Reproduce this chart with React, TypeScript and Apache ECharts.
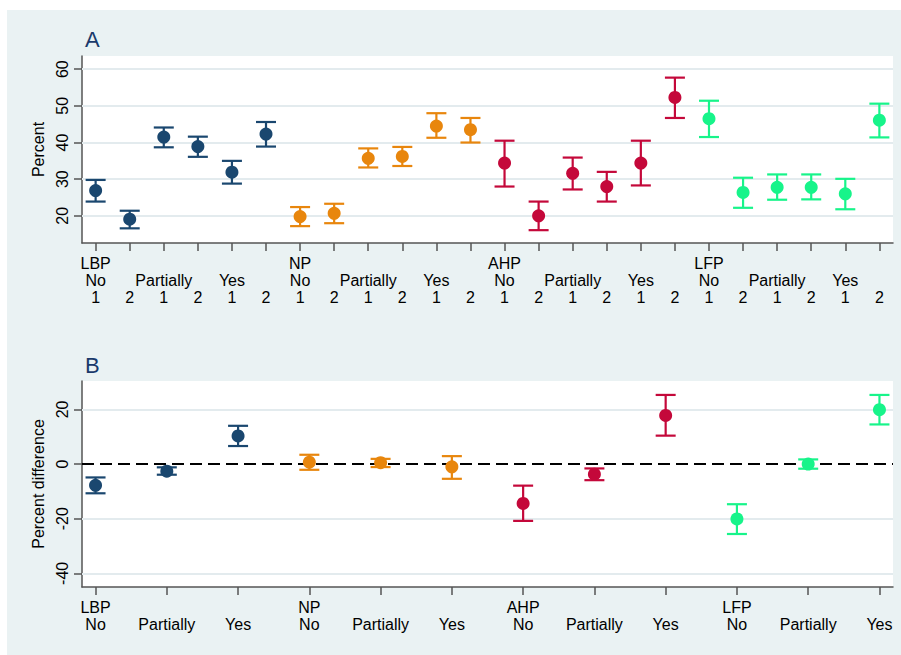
import React, { useEffect, useRef } from "react";
import * as echarts from "echarts";

const groups = ["LBP", "NP", "AHP", "LFP"];
const responses = ["No", "Partially", "Yes"];
const waves = ["1", "2"];
const groupColors = ["#1a476f", "#e8860d", "#c4083a", "#17f48a"];

// Panel A: percent by group x response x wave (24 points)
const percentMean = [
  26.9, 19.1, 41.5, 38.9, 31.9, 42.3,
  19.8, 20.7, 35.7, 36.2, 44.5, 43.5,
  34.4, 20.0, 31.6, 28.0, 34.4, 52.3,
  46.5, 26.4, 27.8, 27.8, 26.0, 46.1,
];
const percentLow = [
  23.9, 16.6, 38.7, 36.1, 28.8, 38.9,
  17.2, 18.0, 33.2, 33.6, 41.3, 40.0,
  28.0, 16.1, 27.2, 23.9, 28.3, 46.7,
  41.5, 22.2, 24.4, 24.5, 21.8, 41.4,
];
const percentHigh = [
  29.8, 21.4, 44.1, 41.6, 35.0, 45.6,
  22.4, 23.3, 38.4, 38.8, 48.0, 46.7,
  40.5, 23.9, 35.9, 32.0, 40.5, 57.7,
  51.4, 30.4, 31.3, 31.3, 30.1, 50.6,
];

// Panel B: percent difference by group x response (12 points)
const diffMean = [-7.8, -2.6, 10.3, 0.7, 0.5, -1.0, -14.4, -3.7, 17.8, -20.1, 0.0, 19.9];
const diffLow = [-10.7, -3.9, 6.6, -2.1, -1.1, -5.4, -20.8, -5.9, 10.4, -25.6, -1.7, 14.5];
const diffHigh = [-4.9, -1.2, 14.0, 3.4, 1.9, 2.9, -7.9, -1.6, 25.3, -14.7, 1.7, 25.3];

const yTicksA = [20, 30, 40, 50, 60];
const yTicksB = [-40, -20, 0, 20];

const FONT = "'Liberation Sans', Arial, sans-serif";
const AXIS_COLOR = "#555555";
const GRID_COLOR = "#e3ebee";

export default function App() {
  const ref = useRef<HTMLDivElement>(null);

  useEffect(() => {
    if (!ref.current) return;
    const chart = echarts.init(ref.current, undefined, { renderer: "svg" });

    const nA = groups.length * responses.length * waves.length;
    const nB = groups.length * responses.length;
    const idxA = Array.from({ length: nA }, (_, i) => i);
    const idxB = Array.from({ length: nB }, (_, i) => i);

    const labelA = (i: number) => {
      const g = Math.floor(i / 6);
      const r = Math.floor((i % 6) / 2);
      const w = i % 2;
      const l1 = r === 0 && w === 0 ? groups[g] : "";
      const l2 = w === 0 ? responses[r] : "";
      return l1 + "\n" + l2 + "\n" + waves[w];
    };
    const labelB = (i: number) => {
      const g = Math.floor(i / 3);
      const r = i % 3;
      return (r === 0 ? groups[g] : "") + "\n" + responses[r];
    };
    const colorA = (i: number) => groupColors[Math.floor(i / 6)];
    const colorB = (i: number) => groupColors[Math.floor(i / 3)];

    const errRender = (params: any, api: any) => {
      const x = api.value(0);
      const lo = api.coord([x, api.value(1)]);
      const hi = api.coord([x, api.value(2)]);
      const color = api.visual("color");
      const half = 10;
      const style = { stroke: color, lineWidth: 2.2 };
      return {
        type: "group",
        children: [
          { type: "line", shape: { x1: lo[0], y1: lo[1], x2: hi[0], y2: hi[1] }, style },
          { type: "line", shape: { x1: lo[0] - half, y1: lo[1], x2: lo[0] + half, y2: lo[1] }, style },
          { type: "line", shape: { x1: hi[0] - half, y1: hi[1], x2: hi[0] + half, y2: hi[1] }, style },
        ],
      };
    };

    const axisLine = { show: true, onZero: false, lineStyle: { color: AXIS_COLOR, width: 1.5 } };
    const tickBase = { show: true, length: 8, lineStyle: { color: AXIS_COLOR, width: 1.5 } };

    const xLabel = {
      color: "#000",
      fontSize: 16,
      lineHeight: 17,
      margin: 12,
      fontFamily: FONT,
    };
    const yLabel = {
      rotate: 90,
      color: "#000",
      fontSize: 16,
      margin: 12,
      fontFamily: FONT,
    };

    const markBase = {
      silent: true,
      symbol: "none",
      label: { show: false },
      emphasis: { disabled: true },
    };

    const option: any = {
      animation: false,
      backgroundColor: "#eaf2f3",
      textStyle: { fontFamily: FONT },
      title: [
        { text: "A", left: 73, top: 13, textStyle: { fontSize: 22, color: "#1a3a6b", fontWeight: "normal", fontFamily: FONT } },
        { text: "B", left: 73, top: 339, textStyle: { fontSize: 22, color: "#1a3a6b", fontWeight: "normal", fontFamily: FONT } },
      ],
      grid: [
        { left: 75, right: 8, top: 46, height: 187, show: true, backgroundColor: "#ffffff", borderWidth: 0 },
        { left: 75, right: 8, top: 371, height: 206, show: true, backgroundColor: "#ffffff", borderWidth: 0 },
      ],
      xAxis: [
        {
          gridIndex: 0,
          type: "value",
          min: -0.4,
          max: nA - 1 + 0.4,
          axisLine,
          splitLine: { show: false },
          axisTick: { ...tickBase, customValues: idxA },
          axisLabel: { ...xLabel, customValues: idxA, formatter: (v: number) => labelA(Math.round(v)) },
        },
        {
          gridIndex: 1,
          type: "value",
          min: -0.19,
          max: nB - 1 + 0.19,
          axisLine,
          splitLine: { show: false },
          axisTick: { ...tickBase, customValues: idxB },
          axisLabel: { ...xLabel, customValues: idxB, formatter: (v: number) => labelB(Math.round(v)) },
        },
      ],
      yAxis: [
        {
          gridIndex: 0,
          type: "value",
          min: 12.6,
          max: 63.6,
          name: "Percent",
          nameLocation: "middle",
          nameGap: 36,
          nameTextStyle: { color: "#000", fontSize: 16, fontFamily: FONT },
          axisLine,
          splitLine: { show: false },
          axisTick: { ...tickBase, customValues: yTicksA },
          axisLabel: { ...yLabel, customValues: yTicksA },
        },
        {
          gridIndex: 1,
          type: "value",
          min: -45,
          max: 30.4,
          name: "Percent difference",
          nameLocation: "middle",
          nameGap: 36,
          nameTextStyle: { color: "#000", fontSize: 16, fontFamily: FONT },
          axisLine,
          splitLine: { show: false },
          axisTick: { ...tickBase, customValues: yTicksB },
          axisLabel: { ...yLabel, customValues: yTicksB },
        },
      ],
      series: [
        {
          type: "line",
          xAxisIndex: 0,
          yAxisIndex: 0,
          data: [],
          z: 1,
          silent: true,
          markLine: {
            ...markBase,
            z: 1,
            lineStyle: { color: GRID_COLOR, width: 2, type: "solid" },
            data: yTicksA.map((v) => ({ yAxis: v })),
          },
        },
        {
          type: "line",
          xAxisIndex: 1,
          yAxisIndex: 1,
          data: [],
          z: 1,
          silent: true,
          markLine: {
            ...markBase,
            z: 1,
            lineStyle: { color: GRID_COLOR, width: 2, type: "solid" },
            data: yTicksB.filter((v) => v !== 0).map((v) => ({ yAxis: v })),
          },
        },
        {
          type: "line",
          xAxisIndex: 1,
          yAxisIndex: 1,
          data: [],
          z: 2,
          silent: true,
          markLine: {
            ...markBase,
            z: 2,
            lineStyle: { color: "#000", width: 2, type: [12, 6] },
            data: [{ yAxis: 0 }],
          },
        },
        {
          type: "custom",
          xAxisIndex: 0,
          yAxisIndex: 0,
          renderItem: errRender,
          z: 3,
          data: idxA.map((i) => ({ value: [i, percentLow[i], percentHigh[i]], itemStyle: { color: colorA(i) } })),
        },
        {
          type: "scatter",
          xAxisIndex: 0,
          yAxisIndex: 0,
          symbolSize: 13,
          z: 4,
          data: idxA.map((i) => ({ value: [i, percentMean[i]], itemStyle: { color: colorA(i), opacity: 1 } })),
        },
        {
          type: "custom",
          xAxisIndex: 1,
          yAxisIndex: 1,
          renderItem: errRender,
          z: 3,
          data: idxB.map((i) => ({ value: [i, diffLow[i], diffHigh[i]], itemStyle: { color: colorB(i) } })),
        },
        {
          type: "scatter",
          xAxisIndex: 1,
          yAxisIndex: 1,
          symbolSize: 13,
          z: 4,
          data: idxB.map((i) => ({ value: [i, diffMean[i]], itemStyle: { color: colorB(i), opacity: 1 } })),
        },
      ],
    };

    chart.setOption(option);
    return () => chart.dispose();
  }, []);

  return (
    <div
      ref={ref}
      style={{ position: "absolute", left: 7, top: 10, width: 894, height: 645 }}
    />
  );
}
